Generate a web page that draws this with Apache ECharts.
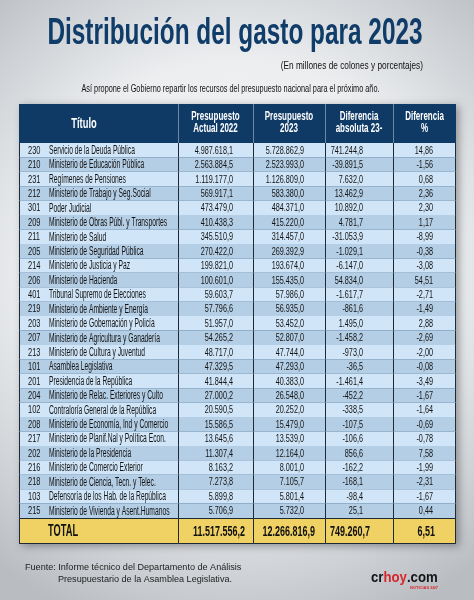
<!DOCTYPE html>
<html><head><meta charset="utf-8">
<script src="https://cdn.jsdelivr.net/npm/echarts@6/dist/echarts.min.js"></script>
<style>html,body{margin:0;padding:0;}#c{width:474px;height:600px;}</style>
</head><body><div id="c"></div>
<script>
// ---- data ----
const codes = ['230','210','231','212','301','209','211','205','214','206','401','219','203','207','213','101','201','204','102','208','217','202','216','218','103','215'];
const titles = ['Servicio de la Deuda Pública','Ministerio de Educación Pública','Regímenes de Pensiones','Ministerio de Trabajo y Seg.Social','Poder Judicial','Ministerio de Obras Públ. y Transportes','Ministerio de Salud','Ministerio de Seguridad Pública','Ministerio de Justicia y Paz','Ministerio de Hacienda','Tribunal Supremo de Elecciones','Ministerio de Ambiente y Energía','Ministerio de Gobernación y Policía','Ministerio de Agricultura y Ganadería','Ministerio de Cultura y Juventud','Asamblea Legislativa','Presidencia de la República','Ministerio de Relac. Exteriores y Culto','Contraloría General de la República','Ministerio de Economía, Ind y Comercio','Ministerio de Planif.Nal y Política Econ.','Ministerio de la Presidencia','Ministerio de Comercio Exterior','Ministerio de Ciencia, Tecn. y Telec.','Defensoría de los Hab. de la República','Ministerio de Vivienda y Asent.Humanos'];
const actual2022 = [4987618.1,2563884.5,1119177.0,569917.1,473479.0,410438.3,345510.9,270422.0,199821.0,100601.0,59603.7,57796.6,51957.0,54265.2,48717.0,47329.5,41844.4,27000.2,20590.5,15586.5,13645.6,11307.4,8163.2,7273.8,5899.8,5706.9];
const budget2023 = [5728862.9,2523993.0,1126809.0,583380.0,484371.0,415220.0,314457.0,269392.9,193674.0,155435.0,57986.0,56935.0,53452.0,52807.0,47744.0,47293.0,40383.0,26548.0,20252.0,15479.0,13539.0,12164.0,8001.0,7105.7,5801.4,5732.0];
const diffAbs = [741244.8,-39891.5,7632.0,13462.9,10892.0,4781.7,-31053.9,-1029.1,-6147.0,54834.0,-1617.7,-861.6,1495.0,-1458.2,-973.0,-36.5,-1461.4,-452.2,-338.5,-107.5,-106.6,856.6,-162.2,-168.1,-98.4,25.1];
const diffPct = [14.86,-1.56,0.68,2.36,2.30,1.17,-8.99,-0.38,-3.08,54.51,-2.71,-1.49,2.88,-2.69,-2.00,-0.08,-3.49,-1.67,-1.64,-0.69,-0.78,7.58,-1.99,-2.31,-1.67,0.44];
const headers = ['Título','Presupuesto\nActual 2022','Presupuesto\n2023','Diferencia\nabsoluta 23-','Diferencia\n%'];
const totalLabel = 'TOTAL';
const totals = [11517556.2,12266816.9,749260.7,6.51];
const decimals = [1,1,1,2];

// ---- layout / style ----
const SANS = '"Liberation Sans",Arial,sans-serif';
const colEdges = [19,178,253,325,393,456];
const HEAD_TOP=104, HEAD_H=39, BODY_TOP=143, BODY_H=375, TOT_TOP=518, TOT_H=26;
const bodyPad = [0,20,21,30,23];
const totPad = [0,8,10,23,21];
const LIGHT='#d0e5f7', DARK='#b4cee5', HEAD='#0f3a66', TOT='#f0d264', LINE='#1e2a36', TXT='#131313';

function fmt(v,d){
  const s=Math.abs(v).toFixed(d); const p=s.split('.');
  return (v<0?'-':'')+p[0].replace(/\B(?=(\d{3})+(?!\d))/g,'.')+','+p[1];
}
const grids=[],xAxes=[],yAxes=[],series=[];
function addGrid(c,top,height,cats){
  const gi=grids.length;
  grids.push({left:colEdges[c],top:top,width:colEdges[c+1]-colEdges[c],height:height});
  xAxes.push({type:'category',gridIndex:gi,data:['c'],show:false});
  yAxes.push({type:'category',gridIndex:gi,data:cats,inverse:true,show:false});
  return gi;
}
function box(api,i){
  const c=api.coord([0,i]); const s=api.size([1,1]);
  return {x:c[0]-s[0]/2,y:c[1]-s[1]/2,w:s[0],h:s[1],cx:c[0],cy:c[1]};
}
function vline(x,y1,y2,color){return {type:'line',shape:{x1:x,y1:y1,x2:x,y2:y2},style:{stroke:color,lineWidth:1}};}
function txt(x,y,sx,text,font,fill,align,extra){
  const st=Object.assign({text:text,fill:fill,font:font,textAlign:align,textVerticalAlign:'middle',align:align,verticalAlign:'middle'},extra||{});
  return {type:'text',x:x,y:y,scaleX:sx,style:st};
}

for(let c=0;c<5;c++){
  const last = c===4;
  // header
  const gh=addGrid(c,HEAD_TOP,HEAD_H,['h']);
  series.push({type:'custom',xAxisIndex:gh,yAxisIndex:gh,silent:true,data:[[0,0]],
    renderItem:function(p,api){
      const b=box(api,0);
      const ch=[{type:'rect',shape:{x:b.x,y:b.y,width:b.w,height:b.h},style:{fill:HEAD}}];
      if(c>0) ch.push(vline(Math.round(b.x)+0.5,b.y,b.y+b.h,'#6d88a3'));
      if(c===0){
        ch.push(txt(b.x+65,b.cy+0.5,0.62,headers[c],'bold 15px '+SANS,'#fff','center'));
      } else {
        ch.push(txt(b.cx,b.cy-1,0.64,headers[c],'bold 12.5px '+SANS,'#fff','center',{lineHeight:12}));
      }
      return {type:'group',children:ch};
    }});
  // body
  const gb=addGrid(c,BODY_TOP,BODY_H,codes);
  const colVals=[null,actual2022,budget2023,diffAbs,diffPct][c];
  series.push({type:'custom',xAxisIndex:gb,yAxisIndex:gb,silent:true,
    data: c===0 ? codes.map((k,i)=>[0,i]) : colVals.map((v,i)=>[0,i,v]),
    renderItem:function(p,api){
      const i=p.dataIndex; const b=box(api,i);
      const ch=[{type:'rect',shape:{x:b.x,y:b.y,width:b.w,height:b.h},style:{fill:i%2?DARK:LIGHT}}];
      ch.push(vline(Math.round(b.x)+0.5,b.y,b.y+b.h,LINE));
      if(last) ch.push(vline(Math.round(b.x+b.w)-0.5,b.y,b.y+b.h,LINE));
      if(c===0){
        ch.push(txt(b.x+9,b.cy+0.5,0.68,codes[i],'11px '+SANS,TXT,'left'));
        ch.push(txt(b.x+30,b.cy+0.5,0.56,titles[i],'12px '+SANS,TXT,'left'));
      } else {
        ch.push(txt(b.x+b.w-bodyPad[c],b.cy+0.5,0.66,fmt(api.value(2),decimals[c-1]),'11px '+SANS,TXT,'right'));
      }
      return {type:'group',children:ch};
    }});
  // total
  const gt=addGrid(c,TOT_TOP,TOT_H,['t']);
  series.push({type:'custom',xAxisIndex:gt,yAxisIndex:gt,silent:true,
    data: c===0 ? [[0,0]] : [[0,0,totals[c-1]]],
    renderItem:function(p,api){
      const b=box(api,0);
      const ch=[{type:'rect',shape:{x:Math.round(b.x)+0.5,y:Math.round(b.y)+0.5,width:Math.round(b.w)-(last?1:0),height:Math.round(b.h)-1},style:{fill:TOT,stroke:LINE,lineWidth:1}}];
      if(c===0){
        ch.push(txt(b.x+29,b.cy+0.5,0.58,totalLabel,'bold 16px '+SANS,'#111','left'));
      } else {
        ch.push(txt(b.x+b.w-totPad[c],b.cy+1,0.6,fmt(api.value(2),decimals[c-1]),'bold 15px '+SANS,'#111','right'));
      }
      return {type:'group',children:ch};
    }});
}
// frame with shadow
grids.push({left:19,top:104,width:437,height:440,show:true,backgroundColor:HEAD,borderWidth:0,shadowBlur:8,shadowColor:'rgba(0,0,0,0.35)',shadowOffsetX:3,shadowOffsetY:2,z:0});
xAxes.push({type:'value',gridIndex:grids.length-1,show:false});
yAxes.push({type:'value',gridIndex:grids.length-1,show:false});

const chart=echarts.init(document.getElementById('c'),null,{renderer:'canvas'});
chart.setOption({
  animation:false,
  backgroundColor:{type:'radial',x:0.5,y:0.45,r:0.8,colorStops:[{offset:0,color:'#f7f8f9'},{offset:0.55,color:'#eceef0'},{offset:1,color:'#b9bdc2'}]},
  grid:grids, xAxis:xAxes, yAxis:yAxes, series:series,
  graphic:[
    txt(235,34,0.677,'Distribución del gasto para 2023','bold 36px '+SANS,'#0f3c68','center'),
    txt(423,66,0.72,'(En millones de colones y porcentajes)','11.5px '+SANS,'#111','right'),
    txt(230.5,89,0.665,'Así propone el Gobierno repartir los recursos del presupuesto nacional para el próximo año.','11px '+SANS,'#111','center'),
    txt(25,567,0.955,'Fuente: Informe técnico del Departamento de Análisis','9.5px '+SANS,'#222','left'),
    txt(58,579,0.955,'Presupuestario de la Asamblea Legislativa.','9.5px '+SANS,'#222','left'),
    {type:'text',x:371,y:578,scaleX:0.88,style:{text:'{a|cr}{b|hoy}{a|.com}',rich:{a:{fill:'#151515',font:'bold 15px '+SANS},b:{fill:'#d8262a',font:'bold 15px '+SANS}},textAlign:'left',textVerticalAlign:'middle',align:'left',verticalAlign:'middle'}},
    txt(438,588,1,'NOTICIAS 24/7','bold 4px '+SANS,'#d8262a','right')
  ]
});
</script></body></html>
